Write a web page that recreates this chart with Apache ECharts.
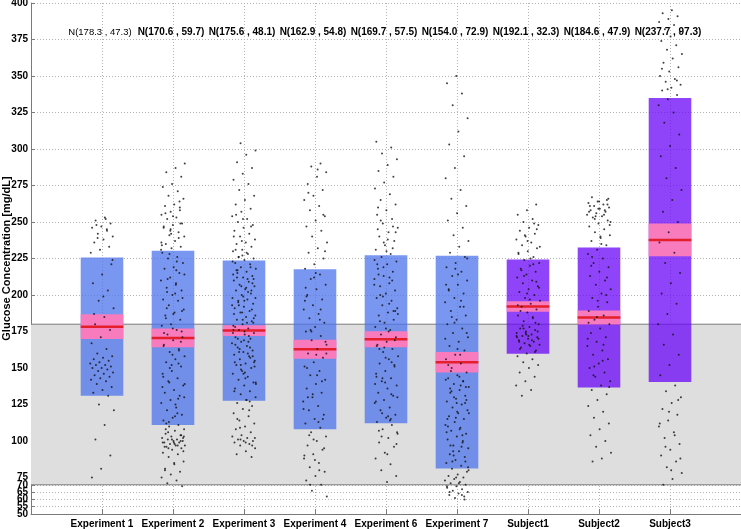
<!DOCTYPE html>
<html><head><meta charset="utf-8">
<script src="https://cdn.jsdelivr.net/npm/echarts@6/dist/echarts.min.js"></script>
<style>html,body{margin:0;padding:0;background:#fff}#c{width:741px;height:529px}</style>
</head><body><div id="c"></div>
<script>
const categories = ['Experiment 1','Experiment 2','Experiment 3','Experiment 4','Experiment 6','Experiment 7','Subject1','Subject2','Subject3'];
const groupKind = ['exp','exp','exp','exp','exp','exp','subj','subj','subj'];
const means = [178.3,170.6,175.6,162.9,169.7,154.0,192.1,184.6,237.7];
const sds = [47.3,59.7,48.1,54.8,57.5,72.9,32.3,47.9,97.3];
const ciHalf = [8.5,6.4,3.7,6.5,5.5,7.0,3.6,4.8,11.2];
const yTicks = [50,55,60,65,70,75,100,125,150,175,200,225,250,275,300,325,350,375,400];
const xTicks = [1,2,3,4,5,6,7,8,9];
const targetRange = [70,180];
const labelLevel = 380;

const ptsExp1 = [253,251,249,247,246,244,242,240,238,236,233,231,229,252,248,221,214,208,203,196,191,185,180,176,171,167,163,160,158,157,156,155,154,153,152,152,151,150,150,149,148,147,146,145,144,143,142,141,139,137,135,133,131,125,121,111,101,90,81,75,245,239,224,199,187];
const ptsExp2 = [290,287,284,281,276,274,271,268,266,262,261,258,257,255,253,252,249,248,246,243,241,240,237,235,233,232,229,226,225,222,219,218,215,212,210,207,205,203,200,197,196,193,190,188,186,183,180,179,176,173,171,169,166,163,161,158,156,154,151,148,146,143,141,138,135,133,131,128,126,123,121,118,116,114,111,110,108,107,105,104,103,102,101,101,100,100,99,99,98,97,97,96,95,94,92,91,89,86,84,81,79,77,75,73,71,69,254,247,239,228,214,201,184,168,152,137,119,106,102,99,96,264,244,231,208,191,175,159,144,129,113,103,98,256,249,242,234,223,211,198,187,174,162,150,139,125,112,104,101,99,97,95,93,85,80,260,245,236,217,202,189,177,165,153,140,130,117,108,100];
const ptsExp3 = [304,299,296,291,287,283,279,276,272,268,265,262,259,257,254,252,250,248,246,244,242,240,238,236,235,233,231,230,228,226,225,224,222,221,219,218,216,215,213,212,210,209,207,206,204,203,201,200,198,197,195,194,192,191,189,188,186,185,183,182,180,179,177,176,174,173,171,170,168,167,165,164,162,161,159,158,156,155,153,152,150,148,146,144,142,140,138,136,134,132,130,128,126,124,122,119,117,114,112,110,108,106,104,103,102,101,100,100,99,98,97,95,93,91,89,227,214,202,193,184,175,166,157,149,139,229,217,208,199,187,172,163,151,143,255,247,237,223,211,196,181,169,154,127,101,198,205,212,190,183,176,168,161,154,147,231,219,206,193,181,170,158,146,134,121,109,102,99,217,203,188,174,160,226,211,196,178,164,152,140,128,115,97,252,240];
const ptsExp4 = [290,288,284,281,276,272,268,265,261,258,254,251,247,244,240,236,232,229,225,221,218,214,211,207,204,200,197,193,190,187,184,181,178,175,172,169,166,163,160,157,154,151,148,145,142,139,136,133,130,127,124,121,118,115,112,109,106,103,100,97,94,91,88,85,82,79,76,73,70,66,62,286,270,255,212,196,183,176,168,159,150,141,132,122,113,104,95,87,205,190,175,160,145,130,115,101,90,80,70,230,215,199];
const ptsExp6 = [305,301,297,293,289,285,281,277,273,269,265,262,258,255,252,249,246,243,240,237,234,231,228,226,223,221,218,216,213,211,208,206,203,201,198,196,193,191,188,186,183,181,178,176,173,171,168,166,163,161,158,156,153,151,148,146,143,141,138,136,133,131,128,126,123,121,118,116,113,111,108,105,102,99,96,92,88,84,80,76,72,245,232,219,207,194,182,169,157,144,132,119,106,238,214,189,164,139,114,251,243,230,221,210,199,187,175,163,152,140,127,115,103,98,91,260,247,236,224,212,200,189,177,165,154,143,130,117,107];
const ptsExp7 = [350,345,338,330,321,312,303,295,287,280,272,266,261,256,251,246,241,237,233,229,226,222,219,216,213,210,207,204,201,198,195,192,189,186,183,180,177,174,171,168,165,162,159,156,153,150,147,145,143,141,139,137,135,133,131,129,127,125,123,121,119,117,115,113,111,109,107,105,103,101,99,97,95,93,91,89,87,85,83,81,79,77,76,75,74,73,72,71,70,69,68,67,66,65,64,63,62,61,142,138,134,128,120,110,100,90,80,144,136,126,116,106,96,86,225,214,203,192,181,170,159,148,137,126,115,104,93,82,71,65,60,218,207,196,185,174,163,152,141,130,119,108,97,86,75,69,63];
const ptsSub1 = [262,258,255,252,250,248,246,244,242,240,238,236,234,232,230,228,226,224,222,220,218,216,214,212,210,208,206,204,202,200,198,196,194,192,190,188,186,184,182,180,178,177,176,175,174,173,172,171,170,169,168,167,166,165,164,162,160,158,156,154,152,150,147,144,141,138,135,131,245,237,229,221,213,205,197,189,181,173,171,169,179,175,172,168,249,241,233,225,217,209,201,193,185,177,170,166,163,161,174,172];
const ptsSub2 = [267,265,264,263,262,261,260,259,258,257,256,255,254,253,251,249,247,245,243,241,239,237,234,231,228,225,222,219,216,213,210,207,204,201,198,195,192,189,186,183,180,177,174,171,168,165,162,159,156,153,150,147,144,141,138,135,132,128,124,120,116,112,108,104,100,96,92,88,86,262,259,257,255,252,248,240,220,200,185,170,155,145,266,264,261,258,254,250,235,226,212,196,181,166,151,137];
const ptsSub3 = [395,393,391,389,387,385,382,380,377,374,371,368,365,362,359,356,353,350,348,346,344,342,340,337,334,330,325,318,310,302,295,287,280,272,265,257,250,243,236,229,222,215,208,201,194,187,180,173,166,159,152,145,138,134,130,126,122,118,114,110,106,102,98,94,90,86,82,78,74,70,128,120,112,104,96,88,80,355,347,341];
const groupPoints = [ptsExp1,ptsExp2,ptsExp3,ptsExp4,ptsExp6,ptsExp7,ptsSub1,ptsSub2,ptsSub3];

const FONT = '"Liberation Sans", Arial, Helvetica, sans-serif';
const boxColor = {exp:'#4c73eb', subj:'#6a06f8'};
const HALF = 0.3;

const scatterData = [];
groupPoints.forEach((arr, g) => {
  arr.forEach((v, i) => {
    const jit = (((i + 1) * 0.6180339887 + g * 0.37) % 1 - 0.5) * 0.34;
    scatterData.push([g + 1 + jit, v]);
  });
});

const boxData = means.map((m, i) => [i + 1, m - sds[i], m + sds[i], i]);
const ciData = means.map((m, i) => [i + 1, m, m - ciHalf[i], m + ciHalf[i], i]);
const labelData = means.map((m, i) => [i + 1, labelLevel, i]);

// split y tick labels across two overlaid axes so the crowded low labels are all drawn
const yLabelsA = yTicks.filter((v, i) => i !== 1);
const yLabelsB = [yTicks[1]];

const chart = echarts.init(document.getElementById('c'), null, {renderer: 'canvas'});
const axisGray = '#7a7a7a';
const yLabelStyle = {color: '#000', fontWeight: 'bold', fontSize: 10, fontFamily: FONT, margin: 3,
  showMinLabel: true, showMaxLabel: true, hideOverlap: false};
chart.setOption({
  animation: false,
  backgroundColor: '#fff',
  grid: {left: 31, right: 0, top: 3, bottom: 15, containLabel: false, outerBoundsMode: 'none'},
  xAxis: {
    type: 'value', min: 0, max: 10, position: 'bottom',
    axisLine: {show: true, onZero: false, lineStyle: {color: axisGray, width: 1}},
    axisTick: {show: true, inside: true, length: 5, customValues: xTicks, lineStyle: {color: axisGray}},
    axisLabel: {customValues: xTicks, formatter: v => categories[Math.round(v) - 1] || '',
      color: '#000', fontWeight: 'bold', fontSize: 10, fontFamily: FONT, margin: 5},
    splitLine: {show: true, lineStyle: {color: '#b4b4b4', type: [1, 2], width: 1}}
  },
  yAxis: [{
    type: 'value', min: 50, max: 400, position: 'left',
    name: 'Glucose Concentration [mg/dL]', nameLocation: 'middle', nameGap: 19, nameMoveOverlap: false,
    nameTextStyle: {color: '#000', fontWeight: 'bold', fontSize: 11, fontFamily: FONT},
    axisLine: {show: true, onZero: false, lineStyle: {color: axisGray, width: 1}},
    axisTick: {show: true, inside: true, length: 4, customValues: yTicks, lineStyle: {color: axisGray}},
    axisLabel: Object.assign({customValues: yLabelsA}, yLabelStyle),
    splitLine: {show: true, lineStyle: {color: '#b4b4b4', type: [1, 2], width: 1}}
  }, {
    type: 'value', min: 50, max: 400, position: 'left', offset: 0,
    axisLine: {show: false}, axisTick: {show: false}, splitLine: {show: false},
    axisLabel: Object.assign({customValues: yLabelsB}, yLabelStyle)
  }],
  series: [
    {
      type: 'custom', z: 1, silent: true, clip: true,
      data: [[targetRange[0], targetRange[1]]],
      renderItem(params, api) {
        const lo = api.value(0), hi = api.value(1);
        const a = api.coord([0, hi]), b = api.coord([10, lo]);
        return {type: 'group', children: [
          {type: 'rect', shape: {x: a[0], y: a[1], width: b[0] - a[0], height: b[1] - a[1]}, style: {fill: '#dedede'}},
          {type: 'line', shape: {x1: a[0], y1: a[1], x2: b[0], y2: a[1]}, style: {stroke: '#7a7a7a', lineWidth: 1}},
          {type: 'line', shape: {x1: a[0], y1: b[1], x2: b[0], y2: b[1]}, style: {stroke: '#7a7a7a', lineWidth: 1}}
        ]};
      }
    },
    {
      type: 'custom', z: 2, silent: true,
      data: boxData,
      renderItem(params, api) {
        const x = api.value(0), lo = api.value(1), hi = api.value(2), g = api.value(3);
        const a = api.coord([x - HALF, hi]), b = api.coord([x + HALF, lo]);
        return {type: 'rect', shape: {x: a[0], y: a[1], width: b[0] - a[0], height: b[1] - a[1]},
          style: {fill: boxColor[groupKind[g]], opacity: 0.75}};
      }
    },
    {
      type: 'custom', z: 3, silent: true,
      data: ciData,
      renderItem(params, api) {
        const x = api.value(0), m = api.value(1), lo = api.value(2), hi = api.value(3);
        const a = api.coord([x - HALF, hi]), b = api.coord([x + HALF, lo]);
        const c1 = api.coord([x - HALF, m]), c2 = api.coord([x + HALF, m]);
        return {type: 'group', children: [
          {type: 'rect', shape: {x: a[0], y: a[1], width: b[0] - a[0], height: b[1] - a[1]}, style: {fill: '#f77bbd'}},
          {type: 'line', shape: {x1: c1[0], y1: c1[1], x2: c2[0], y2: c2[1]}, style: {stroke: '#e41f2b', lineWidth: 2.5}}
        ]};
      }
    },
    {
      type: 'scatter', z: 4, silent: true,
      symbol: 'circle', symbolSize: 2,
      itemStyle: {color: '#111'},
      data: scatterData
    },
    {
      type: 'custom', z: 5, silent: true,
      data: labelData,
      renderItem(params, api) {
        const x = api.value(0), y = api.value(1), g = api.value(2);
        const p = api.coord([x, y]);
        const first = g === 0;
        return {type: 'text', x: p[0] - 2, y: p[1],
          style: {text: 'N(' + means[g].toFixed(1) + ' , ' + sds[g].toFixed(1) + ')',
            fill: '#000', font: (first ? 'normal 9.5px ' : 'bold 10px ') + FONT,
            align: 'center', verticalAlign: 'middle', textAlign: 'center', textVerticalAlign: 'middle'}};
      }
    }
  ]
});
</script>
</body></html>
